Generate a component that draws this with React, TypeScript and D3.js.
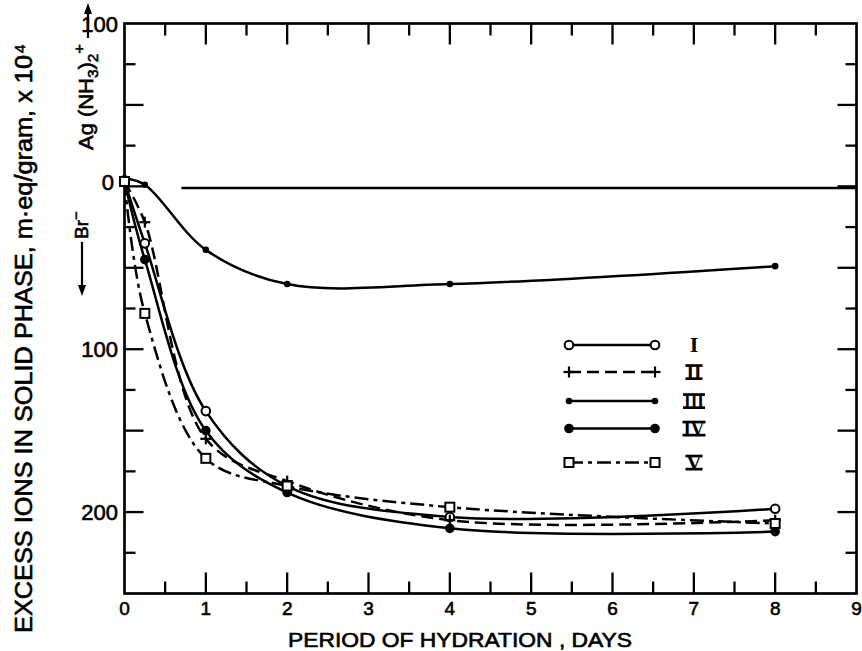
import React from "react";
import * as d3 from "d3";

// Hydration period (days) at which each preparation was sampled
const days = [0, 0.25, 1, 2, 4, 8];

// Excess ions in solid phase (m-eq/gram x 10^4); positive = Br- excess (plotted downward)
const seriesI = [-3, 35, 138, 184, 203, 198];
const seriesII = [-3, 22, 155, 181, 205, 205];
const seriesIII = [-5, -1, 39, 60, 60, 49];
const seriesIV = [-3, 45, 150, 188, 210, 212];
const seriesV = [-3, 78, 167, 184, 197, 207];

const seriesNames = ["I", "II", "III", "IV", "V"];

// Ag(NH3)2+ reference level (days span and value)
const agLineDays = [0.7, 9];
const agLineValue = 1;

const xTickValues = d3.range(0, 9.001, 0.5);
const xLabelValues = d3.range(0, 10, 1);
const yTickValues = d3.range(-75, 226, 25);
const yLabelValues = [-100, 0, 100, 200];

const W = 862;
const H = 651;
const FONT = "'Liberation Sans', Arial, Helvetica, sans-serif";
const SERIF = "'Liberation Serif', 'Times New Roman', serif";
const TEXT_STROKE = 0.6;

type MarkerKind = "circle" | "plus" | "dotSmall" | "dotBig" | "square";

const styles: { marker: MarkerKind; dash: string | undefined }[] = [
  { marker: "circle", dash: undefined },
  { marker: "plus", dash: "12,6" },
  { marker: "dotSmall", dash: undefined },
  { marker: "dotBig", dash: undefined },
  { marker: "square", dash: "14,5,4,5" },
];

function Marker({ kind, cx, cy }: { kind: MarkerKind; cx: number; cy: number }) {
  switch (kind) {
    case "circle":
      return <circle cx={cx} cy={cy} r={4.3} fill="#fff" stroke="#000" strokeWidth={2} />;
    case "plus":
      return (
        <g stroke="#000" strokeWidth={2.2}>
          <line x1={cx - 5.5} x2={cx + 5.5} y1={cy} y2={cy} />
          <line x1={cx} x2={cx} y1={cy - 5.5} y2={cy + 5.5} />
        </g>
      );
    case "dotSmall":
      return <circle cx={cx} cy={cy} r={3.3} fill="#000" />;
    case "dotBig":
      return <circle cx={cx} cy={cy} r={4.8} fill="#000" />;
    case "square":
      return <rect x={cx - 4.5} y={cy - 4.5} width={9} height={9} fill="#fff" stroke="#000" strokeWidth={2} />;
  }
}

// Roman numeral legend label with bars above and below (except "I")
function Numeral({ text, cx, cy }: { text: string; cx: number; cy: number }) {
  const widths: Record<string, number> = { I: 9, II: 17, III: 22, IV: 23, V: 17 };
  const w = widths[text];
  return (
    <g>
      <text
        x={cx}
        y={cy + 7.4}
        textAnchor="middle"
        fontFamily={SERIF}
        fontWeight="bold"
        fontSize={22}
        textLength={text === "I" ? undefined : w - 2}
        lengthAdjust="spacingAndGlyphs"
      >
        {text}
      </text>
      {text !== "I" && (
        <g fill="#000">
          <rect x={cx - w / 2} y={cy - 7.8} width={w} height={2.7} />
          <rect x={cx - w / 2} y={cy + 5.3} width={w} height={2.7} />
        </g>
      )}
    </g>
  );
}

export default function App() {
  const x = d3.scaleLinear().domain([0, 9]).range([124.5, 856.5]);
  const y = d3.scaleLinear().domain([-100, 250]).range([23.5, 593.5]);

  const allSeries = [seriesI, seriesII, seriesIII, seriesIV, seriesV];

  const line = d3
    .line<[number, number]>()
    .x((d) => x(d[0]))
    .y((d) => y(d[1]))
    .curve(d3.curveCatmullRom.alpha(0.5));

  const [x0, x1] = x.range();
  const [yTop, yBot] = y.range();

  const legendRows = [345, 372, 401, 428.5, 462.5];
  const legX1 = 569;
  const legX2 = 655;

  const textProps = { fontFamily: FONT, stroke: "#000", strokeWidth: TEXT_STROKE, fill: "#000" };

  return (
    <svg width={W} height={H} viewBox={`0 0 ${W} ${H}`} style={{ display: "block", position: "absolute", left: 0, top: 0, background: "#fff" }}>
      <rect x={0} y={0} width={W} height={H} fill="#fff" />

      {/* frame */}
      <rect x={x0} y={yTop} width={x1 - x0} height={yBot - yTop} fill="none" stroke="#000" strokeWidth={2.7} />

      {/* x ticks: bottom (upward) and top (downward) */}
      {xTickValues
        .filter((v) => v > 0 && v < 9)
        .map((v) => {
          const major = Number.isInteger(v);
          const len = major ? 21 : 12;
          return (
            <g key={`xt${v}`} stroke="#000" strokeWidth={2.3}>
              <line x1={x(v)} x2={x(v)} y1={yBot} y2={yBot - len} />
              <line x1={x(v)} x2={x(v)} y1={yTop} y2={yTop + len} />
            </g>
          );
        })}

      {/* y ticks: left (rightward) and right (leftward) */}
      {yTickValues.map((v) => {
        const major = v % 50 === 0;
        const len = major ? 19 : 11;
        return (
          <g key={`yt${v}`} stroke="#000" strokeWidth={2.3}>
            <line x1={x0} x2={x0 + len} y1={y(v)} y2={y(v)} />
            <line x1={x1} x2={x1 - len} y1={y(v)} y2={y(v)} />
          </g>
        );
      })}

      {/* x tick labels */}
      {xLabelValues.map((v) => (
        <text key={`xl${v}`} x={x(v)} y={615} textAnchor="middle" fontSize={19} {...textProps}>
          {v}
        </text>
      ))}

      {/* y tick labels (magnitudes) */}
      {yLabelValues.map((v) => (
        <text
          key={`yl${v}`}
          x={v === 0 ? 114 : 118}
          y={(v === 0 ? y(v) - 4 : y(v)) + 8}
          textAnchor="end"
          fontSize={22}
          {...textProps}
        >
          {Math.abs(v)}
        </text>
      ))}

      {/* x axis title */}
      <text x={460} y={647} textAnchor="middle" fontSize={20} textLength={344} lengthAdjust="spacingAndGlyphs" {...textProps}>
        PERIOD OF HYDRATION , DAYS
      </text>

      {/* y axis title */}
      <text
        transform="translate(32,633) rotate(-90)"
        fontSize={23}
        textLength={578}
        lengthAdjust="spacingAndGlyphs"
        {...textProps}
      >
        EXCESS IONS IN SOLID PHASE, m·eq/gram, x 10
      </text>
      <text transform="translate(25,53) rotate(-90)" fontSize={15} {...textProps}>
        4
      </text>

      {/* Br- direction */}
      <line x1={82} x2={82} y1={242} y2={288} stroke="#000" strokeWidth={2.2} />
      <path d="M78,285 L86,285 L82,296 Z" fill="#000" />
      <text transform="translate(88,239) rotate(-90)" fontSize={19} {...textProps}>
        Br
        <tspan dy={-7} fontSize={15}>−</tspan>
      </text>

      {/* Ag(NH3)2+ direction */}
      <text transform="translate(93,150) rotate(-90)" fontSize={20} textLength={106} lengthAdjust="spacingAndGlyphs" {...textProps}>
        Ag (NH
        <tspan dy={5} fontSize={14}>3</tspan>
        <tspan dy={-5}>)</tspan>
        <tspan dy={5} fontSize={14}>2</tspan>
        <tspan dy={-14} fontSize={15}>+</tspan>
      </text>
      <line x1={88} x2={88} y1={38} y2={12} stroke="#000" strokeWidth={2.2} />
      <path d="M84,14 L92,14 L88,3 Z" fill="#000" />

      {/* Ag(NH3)2+ reference level */}
      <line
        x1={x(agLineDays[0])}
        x2={x(agLineDays[1])}
        y1={y(agLineValue)}
        y2={y(agLineValue)}
        stroke="#000"
        strokeWidth={2.7}
      />

      {/* curves */}
      {allSeries.map((vals, i) => (
        <path
          key={`c${i}`}
          d={line(days.map((d, j) => [d, vals[j]] as [number, number])) ?? ""}
          fill="none"
          stroke="#000"
          strokeWidth={2.5}
          strokeDasharray={styles[i].dash}
        />
      ))}

      {/* markers */}
      {allSeries.map((vals, i) => (
        <g key={`m${i}`}>
          {days.map((d, j) => (
            <Marker key={j} kind={styles[i].marker} cx={x(d)} cy={y(vals[j])} />
          ))}
        </g>
      ))}

      {/* legend */}
      {seriesNames.map((name, i) => (
        <g key={`lg${name}`}>
          <line
            x1={legX1}
            x2={legX2}
            y1={legendRows[i]}
            y2={legendRows[i]}
            stroke="#000"
            strokeWidth={2.3}
            strokeDasharray={styles[i].dash}
          />
          <Marker kind={styles[i].marker} cx={legX1} cy={legendRows[i]} />
          <Marker kind={styles[i].marker} cx={legX2} cy={legendRows[i]} />
          <Numeral text={name} cx={694} cy={legendRows[i]} />
        </g>
      ))}
    </svg>
  );
}
